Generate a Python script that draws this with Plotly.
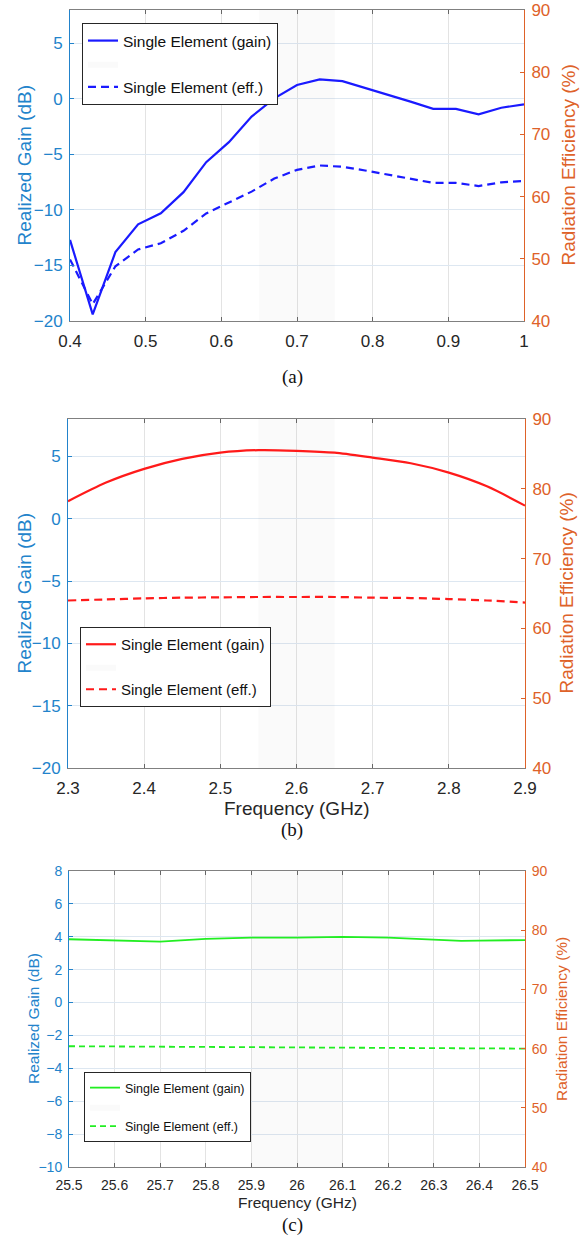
import plotly.graph_objects as go

# ---------------- data ----------------
# Panel (a)
freq_a = [0.40, 0.43, 0.46, 0.49, 0.52, 0.55, 0.58, 0.61, 0.64, 0.67, 0.70,
          0.73, 0.76, 0.79, 0.82, 0.85, 0.88, 0.91, 0.94, 0.97, 1.00]
gain_a = [-12.7, -19.4, -13.8, -11.3, -10.3, -8.4, -5.7, -3.9, -1.6, 0.05, 1.25,
          1.75, 1.6, 1.0, 0.35, -0.25, -0.9, -0.9, -1.4, -0.8, -0.5]
eff_a = [49.9, 42.7, 48.8, 51.5, 52.5, 54.5, 57.3, 59.0, 60.8, 62.9, 64.3,
         65.0, 64.8, 64.2, 63.5, 62.8, 62.2, 62.2, 61.7, 62.3, 62.5]
band_a = [0.65, 0.75]
xticks_a = [0.4, 0.5, 0.6, 0.7, 0.8, 0.9, 1.0]

# Panel (b)
freq_b = [2.30, 2.35, 2.40, 2.45, 2.50, 2.55, 2.60, 2.65, 2.70, 2.75, 2.80, 2.85, 2.90]
gain_b = [1.4, 2.9, 4.0, 4.8, 5.3, 5.5, 5.45, 5.3, 4.9, 4.45, 3.7, 2.6, 1.05]
eff_b = [64.0, 64.15, 64.3, 64.4, 64.45, 64.5, 64.5, 64.5, 64.4, 64.35, 64.2, 64.0, 63.7]
band_b = [2.55, 2.65]
xticks_b = [2.3, 2.4, 2.5, 2.6, 2.7, 2.8, 2.9]

# Panel (c)
freq_c = [25.5, 25.6, 25.7, 25.8, 25.9, 26.0, 26.1, 26.2, 26.3, 26.36, 26.4, 26.5]
gain_c = [3.85, 3.79, 3.70, 3.87, 3.95, 3.95, 3.99, 3.95, 3.85, 3.75, 3.77, 3.80]
eff_c = [60.4, 60.35, 60.3, 60.25, 60.2, 60.2, 60.15, 60.1, 60.05, 60.0, 60.0, 60.0]
band_c = [25.9, 26.1]
xticks_c = [25.5, 25.6, 25.7, 25.8, 25.9, 26.0, 26.1, 26.2, 26.3, 26.4, 26.5]

gain_ticks_ab = [-20, -15, -10, -5, 0, 5]
gain_range_ab = [-20, 8]
gain_ticks_c = [-10, -8, -6, -4, -2, 0, 2, 4, 6, 8]
gain_range_c = [-10, 8]
eff_ticks = [40, 50, 60, 70, 80, 90]
eff_range = [40, 90]

legend_gain = "Single Element (gain)"
legend_eff = "Single Element (eff.)"
ytitle_left = "Realized Gain (dB)"
ytitle_right = "Radiation Efficiency (%)"
xtitle = "Frequency (GHz)"
captions = ["(a)", "(b)", "(c)"]

# ---------------- style ----------------
W, H = 584, 1237
BLUE_AX = "#2283cb"
ORANGE_AX = "#de6229"
DARK = "#262626"
FONT = "Liberation Sans, Arial, sans-serif"

fig = go.Figure()

panels = [
    dict(freq=freq_a, gain=gain_a, eff=eff_a, band=band_a, xticks=xticks_a,
         xr=[0.4, 1.0], gticks=gain_ticks_ab, gr=gain_range_ab,
         color="#1a1aff", lw=2.2, dash="8px,5px",
         px=(70, 524), py=(10, 321), xtitle=None, xt_y=None,
         lt_x=24, rt_x=568,
         tick=17, title=19, leg=15.5, leg_pos=(82, 23), lsx=5,
         cap_y=377, smooth=False),
    dict(freq=freq_b, gain=gain_b, eff=eff_b, band=band_b, xticks=xticks_b,
         xr=[2.3, 2.9], gticks=gain_ticks_ab, gr=gain_range_ab,
         color="#ff1a1a", lw=2.2, dash="8px,5px",
         px=(68, 525), py=(419, 768), xtitle=xtitle, xt_y=808,
         lt_x=24, rt_x=566,
         tick=17, title=19, leg=15, leg_pos=(80, 627), lsx=5,
         cap_y=830, smooth=True),
    dict(freq=freq_c, gain=gain_c, eff=eff_c, band=band_c, xticks=xticks_c,
         xr=[25.5, 26.5], gticks=gain_ticks_c, gr=gain_range_c,
         color="#22ee22", lw=1.8, dash="6px,4px",
         px=(69, 525), py=(871, 1167), xtitle=xtitle, xt_y=1202,
         lt_x=33, rt_x=561,
         tick=14, title=15.5, leg=12.5, leg_pos=(84, 1072), lsx=5,
         cap_y=1225, smooth=False),
]

layout = dict(
    width=W, height=H, autosize=False,
    margin=dict(l=0, r=0, t=0, b=0, pad=0),
    paper_bgcolor="white", plot_bgcolor="white",
    font=dict(family=FONT, color=DARK),
    annotations=[],
    showlegend=True,
)


def ann(text, x, y, size, color, angle=0, family=FONT):
    return dict(text=text, xref="paper", yref="paper", x=x / W, y=1 - y / H,
                xanchor="center", yanchor="middle", showarrow=False, textangle=angle,
                font=dict(family=family, size=size, color=color))


for i, p in enumerate(panels):
    n = i + 1
    xa = "x" if n == 1 else f"x{n}"
    yl_id = 2 * n - 1
    yr_id = 2 * n
    yl = "y" if yl_id == 1 else f"y{yl_id}"
    yr = f"y{yr_id}"
    leg = "legend" if n == 1 else f"legend{n}"

    xdom = [p["px"][0] / W, p["px"][1] / W]
    ydom = [1 - p["py"][1] / H, 1 - p["py"][0] / H]

    # shaded band (drawn from band limits on the gain axis)
    b0, b1 = p["band"]
    g0, g1 = p["gr"]
    fig.add_trace(go.Scatter(
        x=[b0, b1, b1, b0, b0], y=[g0, g0, g1, g1, g0],
        xaxis=xa, yaxis=yl, mode="lines", fill="toself",
        fillcolor="rgba(120,120,120,0.04)", line=dict(width=0),
        name=" ", legend=leg, legendrank=2, hoverinfo="skip"))
    fig.add_trace(go.Scatter(
        x=p["freq"], y=p["gain"], xaxis=xa, yaxis=yl, mode="lines",
        line=dict(color=p["color"], width=p["lw"],
                  shape="spline" if p["smooth"] else "linear", smoothing=0.8),
        name=legend_gain, legend=leg, legendrank=1))
    fig.add_trace(go.Scatter(
        x=p["freq"], y=p["eff"], xaxis=xa, yaxis=yr, mode="lines",
        line=dict(color=p["color"], width=p["lw"], dash=p["dash"],
                  shape="spline" if p["smooth"] else "linear", smoothing=0.8),
        name=legend_eff, legend=leg, legendrank=3))

    xkey = "xaxis" if n == 1 else f"xaxis{n}"
    ylkey = "yaxis" if yl_id == 1 else f"yaxis{yl_id}"
    yrkey = f"yaxis{yr_id}"

    layout[xkey] = dict(
        domain=xdom, anchor=yl, range=p["xr"], tickvals=p["xticks"], automargin=False,
        showgrid=True, gridcolor="#e3e3e3", gridwidth=1, zeroline=False,
        showline=True, linecolor="#808080", linewidth=1, mirror="ticks",
        ticks="inside", ticklen=4, tickcolor="#666666",
        tickfont=dict(size=p["tick"], color=DARK, family=FONT),
        ticklabelstandoff=p["lsx"],
    )
    layout[ylkey] = dict(
        domain=ydom, anchor=xa, range=p["gr"], tickvals=p["gticks"], automargin=False,
        showgrid=True, gridcolor="#dde7f1", gridwidth=1, zeroline=False,
        showline=True, linecolor=BLUE_AX, linewidth=1,
        ticks="inside", ticklen=4, tickcolor=BLUE_AX,
        tickfont=dict(size=p["tick"], color=BLUE_AX, family=FONT),
        ticklabelstandoff=3,
    )
    layout[yrkey] = dict(
        overlaying=yl, side="right", anchor=xa, range=eff_range, tickvals=eff_ticks,
        automargin=False, showgrid=False, zeroline=False,
        showline=True, linecolor=ORANGE_AX, linewidth=1,
        ticks="inside", ticklen=4, tickcolor=ORANGE_AX,
        tickfont=dict(size=p["tick"], color=ORANGE_AX, family=FONT),
        ticklabelstandoff=3,
    )
    layout[leg] = dict(
        x=p["leg_pos"][0] / W, y=1 - p["leg_pos"][1] / H, xanchor="left", yanchor="top",
        bgcolor="white", bordercolor=DARK, borderwidth=1,
        font=dict(size=p["leg"], color="#111111", family=FONT),
        itemwidth=30, traceorder="normal", tracegroupgap=0,
    )

    ymid = (p["py"][0] + p["py"][1]) / 2
    layout["annotations"].append(ann(ytitle_left, p["lt_x"], ymid, p["title"], BLUE_AX, -90))
    layout["annotations"].append(ann(ytitle_right, p["rt_x"], ymid, p["title"], ORANGE_AX, -90))
    if p["xtitle"]:
        xmid = (p["px"][0] + p["px"][1]) / 2
        layout["annotations"].append(ann(p["xtitle"], xmid, p["xt_y"], p["title"], DARK))
    layout["annotations"].append(ann(captions[i], W / 2, p["cap_y"], 19, "#111111", 0,
                                     "Liberation Serif, Times New Roman, serif"))

fig.update_layout(**layout)
fig.write_html("out.html")
